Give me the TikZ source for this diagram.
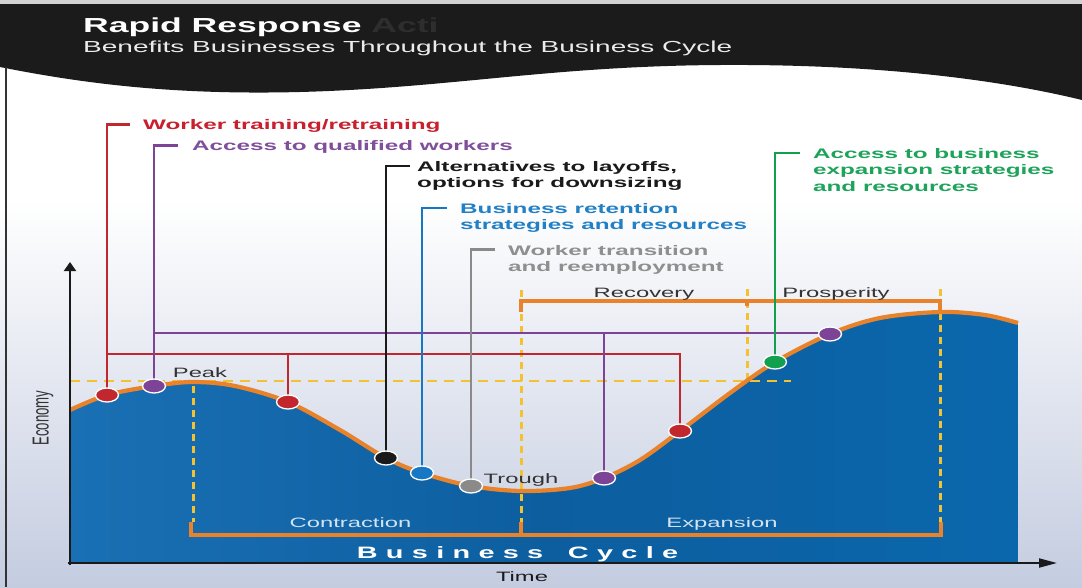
\documentclass[tikz,border=0pt]{standalone}
\usepackage{fontspec}
\usetikzlibrary{arrows.meta,shapes.geometric,calc}
\setmainfont{Liberation Sans}
\newfontfamily\wreg[FakeStretch=1.75]{Liberation Sans}
\newfontfamily\wbf[FakeStretch=1.75]{Liberation Sans Bold}
\newfontfamily\wrot[FakeStretch=0.571]{Liberation Sans}
\definecolor{cred}{HTML}{C1272D}
\definecolor{credl}{HTML}{C8202F}
\definecolor{cpur}{HTML}{7D4397}
\definecolor{cpurl}{HTML}{7F4F9C}
\definecolor{cblk}{HTML}{1A1A1A}
\definecolor{cblu}{HTML}{1677C4}
\definecolor{cblul}{HTML}{2280C5}
\definecolor{cgry}{HTML}{8A8A8A}
\definecolor{cgryl}{HTML}{8F8F8F}
\definecolor{cgrn}{HTML}{13A04E}
\definecolor{cgrnl}{HTML}{1DA35A}
\definecolor{corg}{HTML}{E8832B}
\definecolor{cyel}{HTML}{F2C232}
\definecolor{bgbot}{HTML}{C4CCE0}
\definecolor{hdr}{HTML}{1C1B1B}
\definecolor{ghost}{HTML}{2E2E2E}
\definecolor{bla}{HTML}{1A70B4}
\definecolor{blb}{HTML}{0C5E9F}
\definecolor{blc}{HTML}{0B67AC}
\definecolor{txt}{HTML}{333333}
\definecolor{onblue}{HTML}{D3E3F1}
\begin{document}
\begin{tikzpicture}[x=1pt,y=-1pt,
  lbl/.style={font=\wbf\fontsize{13.85}{16.4}\selectfont, inner sep=0pt},
  reg/.style={font=\wreg\fontsize{13.6}{16}\selectfont, inner sep=0pt, text=txt},
  conn/.style={line width=2.6pt},
  dot/.style={ellipse, draw=white, line width=1.3pt, minimum width=23pt, minimum height=14pt, inner sep=0pt},
  ydash/.style={cyel, line width=3pt, dash pattern=on 7pt off 5pt},
  hdash/.style={cyel, line width=1.8pt, dash pattern=on 10pt off 7pt},
  brk/.style={corg, line width=3.4pt},
  axisline/.style={cblk, line width=2pt},
]
\useasboundingbox (0,0) rectangle (1082,587);
% background
\fill[white] (0,0) rectangle (1082,200);
\shade[top color=white, bottom color=bgbot] (0,200) rectangle (1082,587);
% header band
\fill[gray!35] (0,0) rectangle (1082,4);
\fill[hdr] (0,4) -- (1082,4) -- (1082,100) .. controls (1000,80) and (880,64) .. (720,65) .. controls (550,66) and (450,88) .. (300,92) .. controls (180,95) and (90,85) .. (0,67) -- cycle;
\draw[line width=1.5pt, black!80] (6,67) -- (6,587);
\node[anchor=base west, inner sep=0pt, text=white, font=\wbf\fontsize{20.3}{24}\selectfont] (title) at (83,32) {Rapid Response {\color{ghost}Acti}};
\node[anchor=base west, inner sep=0pt, text=white!92!black, font=\wreg\fontsize{16}{19}\selectfont] (subtitle) at (83,52) {Benefits Businesses Throughout the Business Cycle};
% blue area
\shade[left color=bla, right color=blc, middle color=blb] (70,563) -- plot[smooth,tension=0.55] coordinates {(70,410) (107,395) (154,386) (193,382) (235,386) (288,402) (340,430) (386,458) (422,473) (471,486) (521,491) (570,488) (604,478) (640,460) (680,431) (730,393) (775,362) (830,334) (880,318) (940,312) (985,315) (1018,323)} -- (1018,563) -- cycle;
% dashed guides
\draw[hdash] (70,381) -- (791,381);
\draw[ydash] (193,386) -- (193,522);
\draw[ydash] (521,290) -- (521,522);
\draw[ydash] (747,289) -- (747,381);
\draw[ydash] (940,289) -- (940,522);
% brackets
\draw[brk] (521,312) -- (521,301) -- (940,301) -- (940,312);
\draw[brk] (747,301) -- (747,306);
\draw[brk] (191,522) -- (191,535) -- (941,535) -- (941,522);
\draw[brk] (521,535) -- (521,522);
% curve
\draw[corg, line width=4.2pt] plot[smooth,tension=0.55] coordinates {(70,410) (107,395) (154,386) (193,382) (235,386) (288,402) (340,430) (386,458) (422,473) (471,486) (521,491) (570,488) (604,478) (640,460) (680,431) (730,393) (775,362) (830,334) (880,318) (940,312) (985,315) (1018,323)};
% dot positions
\coordinate (p1) at (107,395);
\coordinate (p2) at (154,386);
\coordinate (p3) at (288,402);
\coordinate (p4) at (386,458);
\coordinate (p5) at (422,473);
\coordinate (p6) at (471,486);
\coordinate (p7) at (604,478);
\coordinate (p8) at (680,431);
\coordinate (p9) at (775,362);
\coordinate (p10) at (830,334);
% labels
\node[lbl, text=credl, anchor=base west] (lw) at (143,129.5) {Worker training/retraining};
\node[lbl, text=cpurl, anchor=base west] (pw) at (192,150.7) {Access to qualified workers};
\node[lbl, text=cblk, anchor=north west, align=left] (aw) at (417,161) {Alternatives to layoffs,\\options for downsizing};
\node[lbl, text=cblul, anchor=north west, align=left] (bw) at (460,203) {Business retention\\strategies and resources};
\node[lbl, text=cgryl, anchor=north west, align=left] (gw) at (508,245) {Worker transition\\and reemployment};
\node[lbl, text=cgrnl, anchor=north west, align=left] (nw) at (813,148) {Access to business\\expansion strategies\\and resources};
% bracket stubs
\coordinate (rs) at (130,124.5);
\coordinate (ps) at (178,145.5);
\coordinate (ks) at (410,166);
\coordinate (bs) at (447,208);
\coordinate (gs) at (495,249.5);
\coordinate (ns) at (800,153);
\coordinate (rb) at (0,354);
\coordinate (pb) at (0,333);
% connectors
\draw[conn, cred] (rs) -| (p1);
\draw[conn, cred] (p1 |- rb) -| (p8);
\draw[conn, cred] (p3 |- rb) -- (p3);
\draw[conn, cpur] (ps) -| (p2);
\draw[conn, cpur] (p2 |- pb) -| (p10);
\draw[conn, cpur] (p7 |- pb) -- (p7);
\draw[conn, cblk] (ks) -| (p4);
\draw[conn, cblu] (bs) -| (p5);
\draw[conn, cgry] (gs) -| (p6);
\draw[conn, cgrn] (ns) -| (p9);
% dots
\node[dot, fill=cred] (d1) at (p1) {};
\node[dot, fill=cpur] (d2) at (p2) {};
\node[dot, fill=cred] (d3) at (p3) {};
\node[dot, fill=cblk] (d4) at (p4) {};
\node[dot, fill=cblu] (d5) at (p5) {};
\node[dot, fill=cgry] (d6) at (p6) {};
\node[dot, fill=cpur] (d7) at (p7) {};
\node[dot, fill=cred] (d8) at (p8) {};
\node[dot, fill=cgrn] (d9) at (p9) {};
\node[dot, fill=cpur] (d10) at (p10) {};
% phase labels
\node[reg, anchor=base] (peak) at (200,377) {Peak};
\node[reg, anchor=base] (trough) at (521,483) {Trough};
\node[reg, anchor=base] (recovery) at (644,297) {Recovery};
\node[reg, anchor=base] (prosperity) at (836,297) {Prosperity};
\node[reg, anchor=base, text=onblue] (contraction) at (350.5,527) {Contraction};
\node[reg, anchor=base, text=onblue] (expansion) at (722,527) {Expansion};
\def\hs{\hspace{8.3pt}}
\node[anchor=base, inner sep=0pt, text=white, font=\wbf\fontsize{16.5}{19}\selectfont] (cycle) at (517.5,558) {B\hs u\hs s\hs i\hs n\hs e\hs s\hs s\hs\ \hs C\hs y\hs c\hs l\hs e};
% axes
\coordinate (yb) at (70,565);
\coordinate (yt) at (70,262);
\coordinate (xb) at (68,563);
\coordinate (xt) at (1057,563);
\draw[axisline, -{Triangle[length=9pt,width=12pt]}] (yb) -- (yt);
\draw[axisline, -{Triangle[length=18pt,width=9pt]}] (xb) -- (xt);
\node[reg, anchor=base, text=cblk] (time) at (522,581) {Time};
\node[inner sep=0pt, rotate=90, text=txt, font=\wrot\fontsize{23.1}{26}\selectfont] (economy) at (43,418) {Economy};
\end{tikzpicture}
\end{document}
